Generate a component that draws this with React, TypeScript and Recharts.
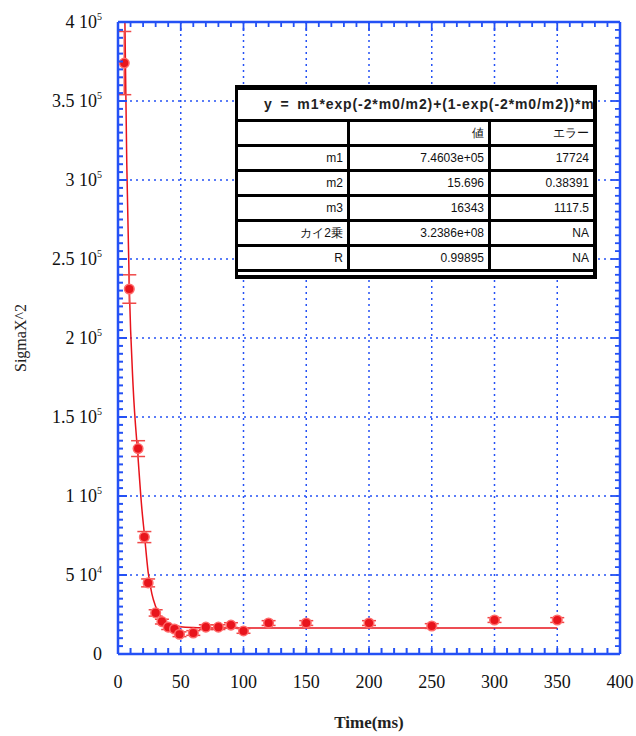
import React from "react";
import {
  ComposedChart,
  Scatter,
  Line,
  XAxis,
  YAxis,
  ErrorBar,
  ReferenceLine,
} from "recharts";

const timeMs = [5, 9, 16, 21, 24, 30, 35, 40, 45, 49, 60, 70, 80, 90, 100, 120, 150, 200, 250, 300, 350];
const sigmaX2 = [
  374000, 231000, 130000, 74000, 45000, 26000, 20500, 17000, 15800, 12500, 13300,
  17000, 17000, 18300, 14600, 19600, 19600, 19600, 17700, 21500, 21500,
];
const sigmaErr = [
  20000, 9000, 5000, 3500, 2500, 2000, 1500, 1500, 1500, 1500, 1500,
  1500, 1500, 1500, 1500, 1500, 1500, 1500, 1500, 1500, 1500,
];

// fitted curve
const fitTime = [5.5, 7, 9, 12, 16, 19, 21, 24, 27, 30, 35, 40, 45, 50, 60, 80, 100, 150, 200, 250, 300, 350];
const fitSigma = [
  400000, 310000, 232000, 170000, 124000, 92000, 76000, 52000, 38000, 30000, 22500,
  19500, 18000, 17300, 16800, 16500, 16400, 16400, 16400, 16400, 16400, 16400,
];

const xTicks = [0, 50, 100, 150, 200, 250, 300, 350, 400];
const xTickLabels = ["0", "50", "100", "150", "200", "250", "300", "350", "400"];
const yTicks = [0, 50000, 100000, 150000, 200000, 250000, 300000, 350000, 400000];
const yTickLabels = ["0", "5 10^4", "1 10^5", "1.5 10^5", "2 10^5", "2.5 10^5", "3 10^5", "3.5 10^5", "4 10^5"];

const fitHeader = "y = m1*exp(-2*m0/m2)+(1-exp(-2*m0/m2))*m3";
const tableHead = ["", "値", "エラー"];
const tableRows = [
  ["m1", "7.4603e+05", "17724"],
  ["m2", "15.696", "0.38391"],
  ["m3", "16343", "1117.5"],
  ["カイ2乗", "3.2386e+08", "NA"],
  ["R", "0.99895", "NA"],
];

const W = 636;
const H = 736;
const MARGIN = { top: 22, right: 16, bottom: 42, left: 8 };
const X_AXIS_H = 40;
const Y_AXIS_W = 110;
const X_MAX = 400;
const Y_MAX = 400000;

const BLUE = "#2451f5";
const RED = "#e8141c";
const SERIF = "'Liberation Serif', 'DejaVu Serif', serif";

const xMinor: number[] = [];
for (let v = 0; v <= X_MAX; v += 10) xMinor.push(v);
const yMinor: number[] = [];
for (let v = 0; v <= Y_MAX; v += 5000) yMinor.push(v);

const topMarks = xMinor.map((v) => ({ x: v, y: Y_MAX, major: v % 50 === 0 }));
const rightMarks = yMinor.map((v) => ({ x: X_MAX, y: v, major: v % 50000 === 0 }));

const points = timeMs.map((t, i) => ({ x: t, y: sigmaX2[i], err: sigmaErr[i] }));
const fit = fitTime.map((t, i) => ({ x: t, y: fitSigma[i] }));

const SupLabel = ({ text, ...rest }: any) => {
  const [base, exp] = text.split("^");
  return (
    <text {...rest} fontFamily={SERIF} fontSize={18} fill="#111">
      {base}
      {exp && (
        <tspan fontSize={10} dy={-8}>
          {exp}
        </tspan>
      )}
    </text>
  );
};

const XTick = (props: any) => {
  const { x, y, payload } = props;
  const idx = xTicks.indexOf(payload.value);
  if (idx < 0) return <g />;
  return (
    <text x={x} y={y + 34} textAnchor="middle" fontFamily={SERIF} fontSize={18} fill="#111">
      {xTickLabels[idx]}
    </text>
  );
};

// left axis: labels plus inward tick lines drawn by the tick itself
const YTick = (props: any) => {
  const { x, y, payload } = props;
  const v = payload.value;
  const len = v % 50000 === 0 ? 9 : 5;
  const idx = yTicks.indexOf(v);
  return (
    <g>
      <rect x={x} y={y - 1} width={len} height={2} fill={BLUE} />
      {idx >= 0 && <SupLabel text={yTickLabels[idx]} x={x - 16} y={y + 6} textAnchor="end" />}
    </g>
  );
};

// top side ticks drawn as dots of an invisible line
const TopTick = (props: any) => {
  const { cx, cy, payload, index } = props;
  if (cx == null || cy == null) return <g key={index} />;
  const len = payload && payload.major ? 9 : 5;
  return <rect key={index} x={cx - 0.9} y={cy} width={1.8} height={len} fill={BLUE} />;
};

const RightTick = (props: any) => {
  const { cx, cy, payload } = props;
  const len = payload && payload.major ? 9 : 5;
  return <rect x={cx - len} y={cy - 0.9} width={len} height={1.8} fill={BLUE} />;
};

const Dot = (props: any) => {
  const { cx, cy } = props;
  return <circle cx={cx} cy={cy} r={4.8} fill={RED} stroke="#ff6a6a" strokeWidth={1.5} />;
};

const cellStyle: React.CSSProperties = {
  background: "#fff",
  textAlign: "right",
  padding: "0 4px",
  fontSize: 12,
  color: "#111",
  lineHeight: "22px",
  height: 22,
  whiteSpace: "nowrap",
};

const FitTable = () => (
  <div
    style={{
      position: "absolute",
      left: 235,
      top: 85,
      width: 362,
      background: "#000",
      padding: "5px 4px 4px 3px",
      boxSizing: "border-box",
      fontFamily: "'Liberation Sans', Arial, sans-serif",
    }}
  >
    <div
      style={{
        background: "#fff",
        height: 29,
        lineHeight: "29px",
        paddingLeft: 26,
        fontSize: 14,
        fontWeight: "bold",
        letterSpacing: 0.9,
        wordSpacing: 3,
        color: "#222",
        overflow: "hidden",
        whiteSpace: "nowrap",
      }}
    >
      {fitHeader}
    </div>
    {[tableHead, ...tableRows].map((row, r) => (
      <div key={r} style={{ display: "flex", marginTop: 3, gap: 3 }}>
        <div style={{ ...cellStyle, width: 101 }}>{row[0]}</div>
        <div style={{ ...cellStyle, width: 130 }}>{row[1]}</div>
        <div style={{ ...cellStyle, flex: 1 }}>{row[2]}</div>
      </div>
    ))}
    <div style={{ background: "#fff", height: 3, marginTop: 3 }} />
  </div>
);

export default function App() {
  return (
    <div style={{ position: "absolute", left: 0, top: 0, width: W, height: H, background: "#fff" }}>
      <ComposedChart width={W} height={H} margin={MARGIN}>
        <XAxis
          dataKey="x"
          type="number"
          domain={[0, X_MAX]}
          ticks={xMinor}
          interval={0}
          allowDataOverflow
          height={X_AXIS_H}
          tickSize={-6}
          tickMargin={6}
          axisLine={false}
          tickLine={{ stroke: BLUE, strokeWidth: 2 }}
          tick={<XTick />}
          label={(p: any) => {
            const vb = p.viewBox;
            return (
              <text
                x={vb.x + vb.width / 2}
                y={728}
                textAnchor="middle"
                fontFamily={SERIF}
                fontSize={17}
                fontWeight="bold"
                fill="#222"
              >
                Time(ms)
              </text>
            );
          }}
        />
        <YAxis
          dataKey="y"
          type="number"
          domain={[0, Y_MAX]}
          ticks={yMinor}
          interval={0}
          allowDataOverflow
          width={Y_AXIS_W}
          tickSize={0}
          tickMargin={0}
          axisLine={false}
          tickLine={false}
          tick={<YTick />}
          label={(p: any) => {
            const vb = p.viewBox;
            const cy = vb.y + vb.height / 2;
            return (
              <text
                x={26}
                y={cy}
                transform={`rotate(-90, 26, ${cy})`}
                textAnchor="middle"
                fontFamily={SERIF}
                fontSize={16}
                fill="#222"
              >
                SigmaX^2
              </text>
            );
          }}
        />
        {xTicks.slice(1, -1).map((v) => (
          <ReferenceLine key={`gx${v}`} x={v} stroke={BLUE} strokeWidth={1.5} strokeDasharray="2 4" />
        ))}
        {yTicks.slice(1, -1).map((v) => (
          <ReferenceLine key={`gy${v}`} y={v} stroke={BLUE} strokeWidth={1.5} strokeDasharray="2 4" />
        ))}
        <Line
          data={topMarks}
          dataKey="y"
          stroke="none"
          dot={(p: any) => <TopTick key={p.index} {...p} />}
          isAnimationActive={false}
        />
        <Line
          data={fit}
          dataKey="y"
          type="monotone"
          stroke={RED}
          strokeWidth={1.5}
          dot={false}
          isAnimationActive={false}
        />
        <Scatter data={points} dataKey="y" shape={<Dot />} isAnimationActive={false}>
          <ErrorBar dataKey="err" direction="y" width={7} stroke="#f04848" strokeWidth={1.5} />
        </Scatter>
        <Scatter data={rightMarks} dataKey="y" shape={<RightTick />} isAnimationActive={false} />
        {/* plot frame */}
        <ReferenceLine x={0} stroke={BLUE} strokeWidth={2.5} />
        <ReferenceLine x={X_MAX} stroke={BLUE} strokeWidth={2.5} />
        <ReferenceLine y={0} stroke={BLUE} strokeWidth={2.5} />
        <ReferenceLine y={Y_MAX} stroke={BLUE} strokeWidth={2.5} />
      </ComposedChart>
      <FitTable />
    </div>
  );
}
